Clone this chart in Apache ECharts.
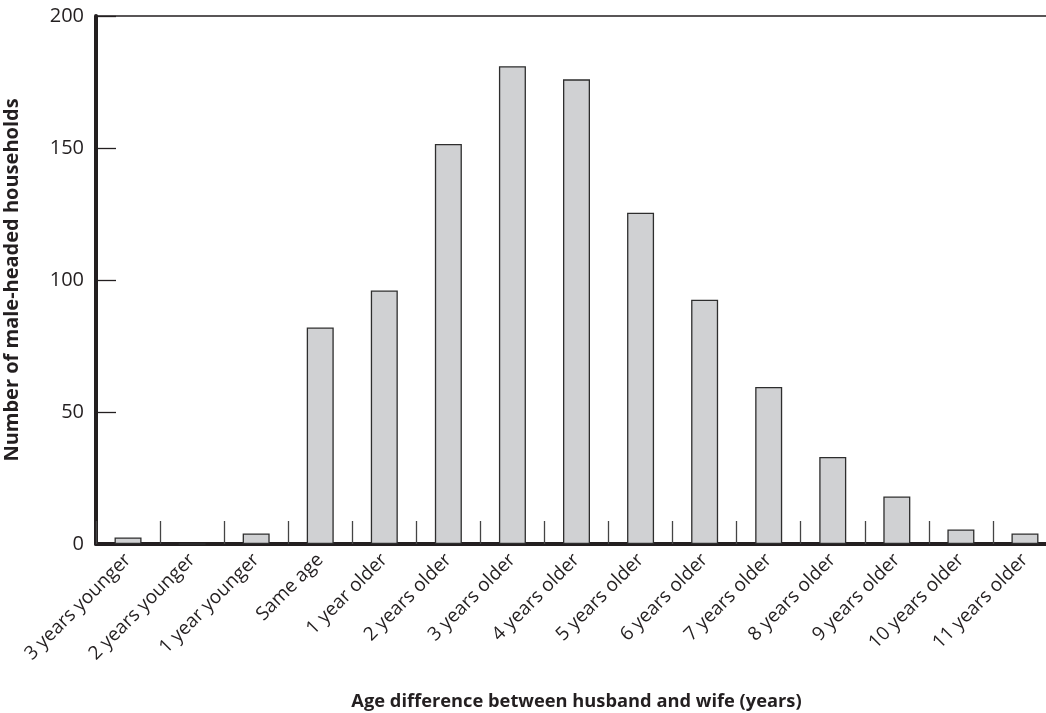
<!DOCTYPE html>
<html>
<head>
<meta charset="utf-8">
<script src="https://cdn.jsdelivr.net/npm/echarts@6/dist/echarts.min.js"></script>
<style>
html,body{margin:0;padding:0;background:#fff;}
#chart{width:1046px;height:713px;}
</style>
</head>
<body>
<div id="chart"></div>
<script>
const categories = ['3 years younger','2 years younger','1 year younger','Same age','1 year older','2 years older','3 years older','4 years older','5 years older','6 years older','7 years older','8 years older','9 years older','10 years older','11 years older'];
const households = [2.5, 0, 4, 82, 96, 151.5, 181, 176, 125.5, 92.5, 59.5, 33, 18, 5.5, 4];
const yTicks = { min: 0, max: 200, interval: 50 };
const xTitle = 'Age difference between husband and wife (years)';
const yTitle = 'Number of male-headed households';

const font = '"Open Sans", "Noto Sans", sans-serif';
const ink = '#231f20';
const chart = echarts.init(document.getElementById('chart'), null, {renderer: 'canvas'});
chart.setOption({
  animation: false,
  backgroundColor: '#fff',
  grid: { left: 96, top: 16, right: -11, bottom: 169, containLabel: false, outerBoundsMode: 'none' },
  xAxis: [{
    type: 'category',
    data: categories,
    boundaryGap: true,
    name: xTitle,
    nameLocation: 'middle',
    nameGap: 149,
    nameTextStyle: { fontFamily: font, fontWeight: 'bold', fontSize: 18.3, color: ink },
    axisLine: { show: true, lineStyle: { color: ink, width: 4 } },
    axisTick: { show: true, inside: true, length: 23, lineStyle: { color: '#444', width: 1.3 } },
    axisLabel: { rotate: 45, margin: 13, fontFamily: font, fontSize: 19, color: ink, interval: 0 },
    splitLine: { show: false }
  }, {
    type: 'category',
    data: categories,
    position: 'top',
    axisLine: { show: true, lineStyle: { color: ink, width: 1.5 } },
    axisTick: { show: false },
    axisLabel: { show: false },
    splitLine: { show: false }
  }],
  yAxis: {
    type: 'value',
    min: yTicks.min,
    max: yTicks.max,
    interval: yTicks.interval,
    name: yTitle,
    nameLocation: 'middle',
    nameGap: 74,
    nameTextStyle: { fontFamily: font, fontWeight: 'bold', fontSize: 20, color: ink },
    axisLine: { show: true, lineStyle: { color: ink, width: 4 } },
    axisTick: { show: true, inside: true, length: 20, lineStyle: { color: ink, width: 1.3 } },
    axisLabel: { margin: 12, fontFamily: font, fontSize: 20, color: ink },
    splitLine: { show: false }
  },
  series: [{
    type: 'bar',
    data: households,
    xAxisIndex: 0,
    barWidth: 27,
    itemStyle: { color: '#d0d1d3', borderColor: '#2e2e2e', borderWidth: 1.3 },
    z: 1
  }]
});
</script>
</body>
</html>
